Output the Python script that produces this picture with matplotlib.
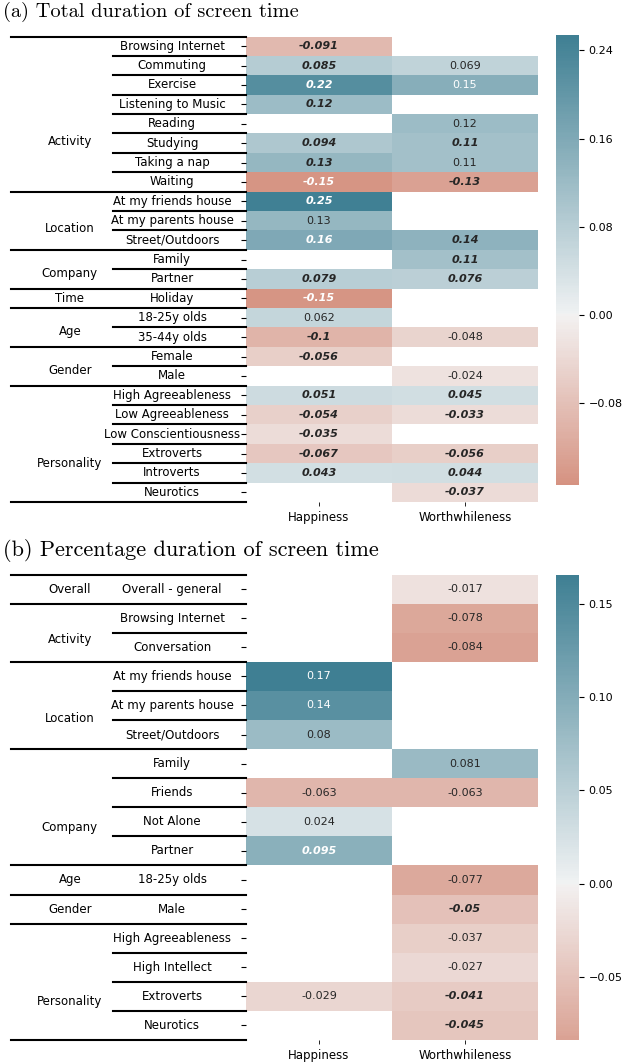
import numpy as np
import pandas as pd
import matplotlib
matplotlib.use("Agg")
import matplotlib.pyplot as plt
import matplotlib.ticker as mticker
import seaborn as sns

nan = np.nan
columns = ["Happiness", "Worthwhileness"]

# (a) Total duration of screen time
rows_a = ["Browsing Internet", "Commuting", "Exercise", "Listening to Music", "Reading",
          "Studying", "Taking a nap", "Waiting",
          "At my friends house", "At my parents house", "Street/Outdoors",
          "Family", "Partner",
          "Holiday",
          "18-25y olds", "35-44y olds",
          "Female", "Male",
          "High Agreeableness", "Low Agreeableness", "Low Conscientiousness",
          "Extroverts", "Introverts", "Neurotics"]
groups_a = [("Activity", 8), ("Location", 3), ("Company", 2), ("Time", 1),
            ("Age", 2), ("Gender", 2), ("Personality", 6)]
happy_a = [-0.091, 0.085, 0.22, 0.12, nan, 0.094, 0.13, -0.15,
           0.25, 0.13, 0.16,
           nan, 0.079,
           -0.15,
           0.062, -0.1,
           -0.056, nan,
           0.051, -0.054, -0.035, -0.067, 0.043, nan]
worth_a = [nan, 0.069, 0.15, nan, 0.12, 0.11, 0.11, -0.13,
           nan, nan, 0.14,
           0.11, 0.076,
           nan,
           nan, -0.048,
           nan, -0.024,
           0.045, -0.033, nan, -0.056, 0.044, -0.037]
# significant values (bold italic)
sig_happy_a = [1, 1, 1, 1, 0, 1, 1, 1, 1, 0, 1, 0, 1, 1, 0, 1, 1, 0, 1, 1, 1, 1, 1, 0]
sig_worth_a = [0, 0, 0, 0, 0, 1, 0, 1, 0, 0, 1, 1, 1, 0, 0, 0, 0, 0, 1, 1, 0, 1, 1, 1]

# (b) Percentage duration of screen time
rows_b = ["Overall - general",
          "Browsing Internet", "Conversation",
          "At my friends house", "At my parents house", "Street/Outdoors",
          "Family", "Friends", "Not Alone", "Partner",
          "18-25y olds",
          "Male",
          "High Agreeableness", "High Intellect", "Extroverts", "Neurotics"]
groups_b = [("Overall", 1), ("Activity", 2), ("Location", 3), ("Company", 4),
            ("Age", 1), ("Gender", 1), ("Personality", 4)]
happy_b = [nan, nan, nan, 0.17, 0.14, 0.08, nan, -0.063, 0.024, 0.095,
           nan, nan, nan, nan, -0.029, nan]
worth_b = [-0.017, -0.078, -0.084, nan, nan, nan, 0.081, -0.063, nan, nan,
           -0.077, -0.05, -0.037, -0.027, -0.041, -0.045]
sig_happy_b = [0, 0, 0, 0, 0, 0, 0, 0, 0, 1, 0, 0, 0, 0, 0, 0]
sig_worth_b = [0, 0, 0, 0, 0, 0, 0, 0, 0, 0, 0, 1, 0, 0, 1, 1]

cmap = sns.diverging_palette(20, 220, as_cmap=True)

W, H = 626, 1064
fig = plt.figure(figsize=(W / 100, H / 100), dpi=100)


def box(x0, y0, x1, y1):
    # pixel box (top-left origin) -> figure fraction
    return [x0 / W, 1 - y1 / H, (x1 - x0) / W, (y1 - y0) / H]


def panel(ax, cax, rows, groups, happy, worth, sig_h, sig_w, vmin, vmax, step, shift):
    df = pd.DataFrame({"Happiness": happy, "Worthwhileness": worth}, index=rows)
    sns.heatmap(df, ax=ax, cbar_ax=cax, cmap=cmap, center=0, vmin=vmin, vmax=vmax,
                annot=True, fmt=".2g", annot_kws={"size": 8},
                cbar_kws={"ticks": mticker.MultipleLocator(step)})
    sig = [sig_h, sig_w]
    for t in ax.texts:
        x, y = t.get_position()
        if sig[int(x)][int(y)]:
            t.set_fontweight("bold")
            t.set_fontstyle("italic")

    ax.set_yticklabels([])
    ax.set_ylabel("")
    ax.tick_params(axis="y", length=3.5, width=0.8)
    ax.tick_params(axis="x", length=3, width=0.6, labelsize=8.5, rotation=0)
    cax.tick_params(labelsize=8, length=3.5)

    tr = ax.get_yaxis_transform()
    for i, r in enumerate(rows):
        ax.text(-0.253, i + 0.5, r, transform=tr, ha="center", va="center", fontsize=8.5)
    ax.plot([-0.805, 0], [0, 0], color="black", lw=1.5, transform=tr, clip_on=False)
    start = 0
    for g, k in groups:
        # group labels sit a little below the middle of their block
        ax.text(-0.603, start + k / 2 + shift * (k - 1), g, transform=tr,
                ha="center", va="center", fontsize=8.5)
        for b in range(start + 1, start + k):
            ax.plot([-0.455, 0], [b, b], color="black", lw=1.5, transform=tr, clip_on=False)
        start += k
        ax.plot([-0.805, 0], [start, start], color="black", lw=1.5, transform=tr, clip_on=False)


ax_a = fig.add_axes(box(246, 36.5, 538, 502))
cax_a = fig.add_axes(box(556, 35, 579, 485))
panel(ax_a, cax_a, rows_a, groups_a, happy_a, worth_a, sig_happy_a, sig_worth_a,
      -0.154, 0.254, 0.08, 0.2)

ax_b = fig.add_axes(box(246, 574.5, 538, 1040))
cax_b = fig.add_axes(box(556, 574.5, 579, 1040))
panel(ax_b, cax_b, rows_b, groups_b, happy_b, worth_b, sig_happy_b, sig_worth_b,
      -0.084, 0.166, 0.05, 0.23)

fig.text(3 / W, 1 - 12 / H, "(a) Total duration of screen time",
         family="cmr10", fontsize=14.7, ha="left", va="center")
fig.text(3 / W, 1 - 551 / H, "(b) Percentage duration of screen time",
         family="cmr10", fontsize=16, ha="left", va="center")

fig.savefig("out.png", dpi=100)
